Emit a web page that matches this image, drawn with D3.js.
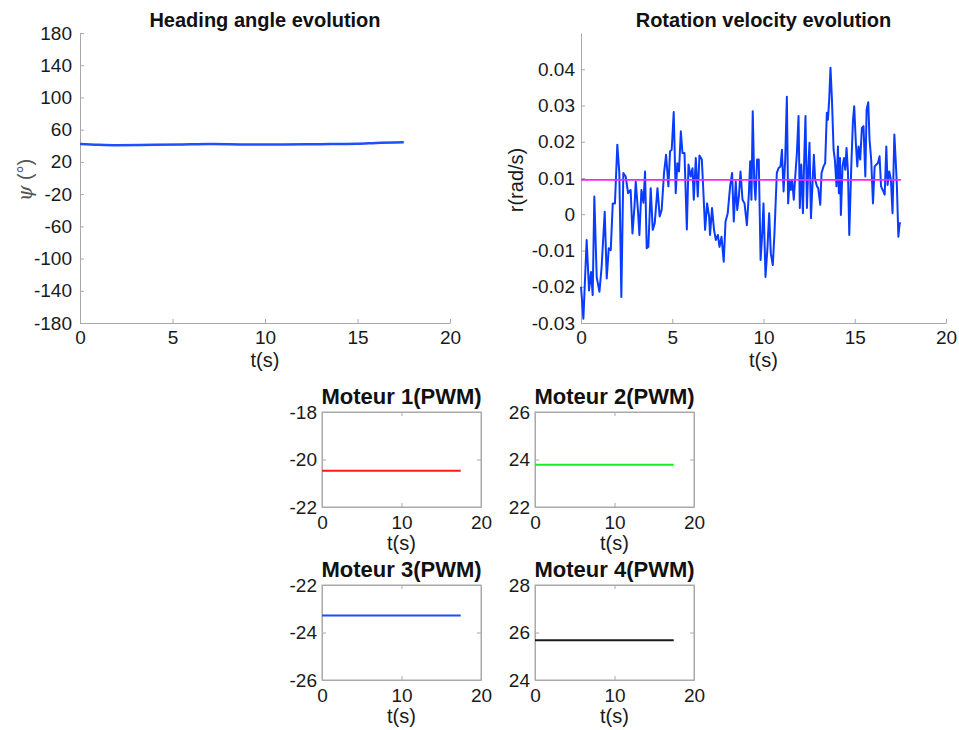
<!DOCTYPE html>
<html>
<head>
<meta charset="utf-8">
<script src="https://cdn.jsdelivr.net/npm/d3@7"></script>
<style>
  body { margin: 0; background: #fff; }
  svg { font-family: "Liberation Sans", Arial, Helvetica, sans-serif; }
</style>
</head>
<body>
<div id="chart"></div>
<script>
// heading angle psi (deg) vs time
var headT = [0, 1, 2, 4, 6, 7, 9, 11, 13, 15, 16, 17.5]
var headV = [42.3, 41.3, 40.8, 41.2, 41.8, 42.2, 41.7, 41.6, 42.0, 42.5, 43.5, 44.4]

// rotation velocity r (rad/s) vs time
var rotT = [0.00,0.13,0.31,0.44,0.55,0.64,0.73,0.86,1.01,1.13,1.30,1.41,1.52,1.63,1.74,1.86,1.99,2.10,2.21,2.32,
  2.45,2.58,2.72,2.82,2.93,3.00,3.13,3.20,3.31,3.42,3.51,3.60,3.69,3.82,3.93,4.04,4.19,4.31,4.42,4.55,
  4.66,4.79,4.88,4.97,5.08,5.19,5.28,5.37,5.47,5.56,5.67,5.80,5.89,6.01,6.11,6.18,6.29,6.40,6.49,6.62,
  6.71,6.80,6.91,7.02,7.07,7.18,7.29,7.39,7.50,7.59,7.70,7.82,7.92,8.04,8.17,8.28,8.37,8.48,8.56,8.65,
  8.74,8.85,8.96,9.09,9.20,9.27,9.34,9.41,9.49,9.56,9.65,9.74,9.84,9.93,10.00,10.11,10.22,10.31,10.40,10.51,
  10.60,10.73,10.82,10.93,11.01,11.10,11.19,11.28,11.35,11.43,11.50,11.57,11.66,11.74,11.83,11.92,11.99,12.07,12.16,12.23,
  12.30,12.38,12.45,12.52,12.60,12.69,12.76,12.83,12.93,13.00,13.11,13.18,13.29,13.38,13.47,13.53,13.60,13.67,13.75,13.84,
  13.91,14.00,14.08,14.13,14.19,14.24,14.33,14.41,14.48,14.55,14.63,14.70,14.81,14.90,14.97,15.06,15.14,15.21,15.30,15.39,
  15.48,15.58,15.65,15.74,15.81,15.90,16.00,16.09,16.18,16.27,16.36,16.44,16.53,16.64,16.73,16.80,16.89,16.98,17.07,17.17,
  17.26,17.31,17.39,17.46,17.53]
var rotV = [-0.0200,-0.0288,-0.0071,-0.0210,-0.0159,-0.0223,0.0049,-0.0173,-0.0214,-0.0145,0.0007,-0.0177,-0.0094,-0.0099,0.0030,0.0030,0.0192,0.0114,-0.0228,0.0114,
  0.0104,0.0058,0.0067,-0.0053,0.0021,0.0090,0.0003,-0.0057,0.0067,0.0032,0.0118,-0.0094,-0.0090,0.0072,-0.0043,-0.0025,0.0072,-0.0006,0.0012,0.0114,
  0.0164,0.0077,0.0174,0.0178,0.0282,0.0058,0.0141,0.0118,0.0229,0.0169,0.0169,-0.0042,0.0137,0.0104,0.0127,0.0040,0.0155,0.0049,0.0162,0.0151,
  0.0058,-0.0043,0.0030,-0.0006,-0.0057,0.0017,-0.0043,-0.0071,-0.0057,-0.0090,-0.0062,-0.0131,-0.0020,0.0003,0.0077,0.0114,-0.0020,0.0090,0.0012,0.0049,
  0.0118,0.0040,0.0030,-0.0030,0.0058,0.0146,0.0040,0.0284,0.0095,0.0040,0.0151,0.0151,-0.0126,-0.0053,0.0030,-0.0173,-0.0090,0.0003,-0.0108,-0.0140,
  -0.0053,0.0114,0.0127,0.0132,0.0178,0.0063,0.0151,0.0324,0.0030,0.0095,0.0067,0.0095,0.0040,0.0104,0.0169,0.0271,0.0017,0.0137,0.0003,0.0151,
  0.0271,0.0017,0.0123,0.0197,-0.0011,0.0090,0.0164,0.0095,0.0077,0.0072,0.0026,0.0114,0.0132,0.0141,0.0280,0.0261,0.0317,0.0404,0.0317,0.0178,
  0.0151,0.0077,0.0187,0.0058,0.0155,-0.0002,0.0132,0.0155,0.0123,0.0183,0.0114,-0.0057,0.0132,0.0257,0.0298,0.0197,0.0132,0.0187,0.0151,0.0238,
  0.0243,0.0104,0.0289,0.0309,0.0206,0.0151,0.0030,0.0132,0.0137,0.0141,0.0160,0.0077,0.0067,0.0054,0.0187,0.0081,0.0118,0.0095,0.0003,0.0220,
  0.0132,0.0077,-0.0062,-0.0025,-0.0025]
var rotRef = 0.0095

// motor PWM commands (constant)
var motorNames = ["Moteur 1(PWM)", "Moteur 2(PWM)", "Moteur 3(PWM)", "Moteur 4(PWM)"]
var motorValues = [-20.47, 23.78, -23.28, 25.67]
var motorYTicks = [[-22, -20, -18], [22, 24, 26], [-26, -24, -22], [24, 26, 28]]
var motorTEnd = 17.45

var headYTicks = [180, 140, 100, 60, 20, -20, -60, -100, -140, -180]
var rotYTicks = [-0.03, -0.02, -0.01, 0, 0.01, 0.02, 0.03, 0.04]

var width = 959, height = 730
var axisColor = "#a9a9a9", textColor = "#1a1a1a"

var svg = d3.select("#chart").append("svg")
  .attr("width", width)
  .attr("height", height)

// plain hyphen minus like the original figure
var plain = d => String(d)

//draws one panel, returns scales
function panel(o) {
  var x = d3.scaleLinear().domain(o.xDomain).range([o.left, o.right])
  var y = d3.scaleLinear().domain(o.yDomain).range([o.bottom, o.top])
  var g = svg.append("g")

  if (o.box) {
    g.append("rect")
      .attr("x", o.left).attr("y", o.top)
      .attr("width", o.right - o.left).attr("height", o.bottom - o.top)
      .attr("fill", "none").attr("stroke", axisColor)
    g.append("g").attr("transform", "translate(0," + o.top + ")")
      .call(d3.axisTop(x).tickValues(o.xTicks).tickSize(-4).tickSizeOuter(0).tickFormat(""))
    g.append("g").attr("transform", "translate(" + o.right + ",0)")
      .call(d3.axisRight(y).tickValues(o.yTicks).tickSize(-4).tickSizeOuter(0).tickFormat(""))
  }

  g.append("g").attr("class", "ax").attr("transform", "translate(0," + o.bottom + ")")
    .call(d3.axisBottom(x).tickValues(o.xTicks).tickSize(-4).tickSizeOuter(0).tickPadding(o.xPad).tickFormat(plain))
  g.append("g").attr("class", "ax").attr("transform", "translate(" + o.left + ",0)")
    .call(d3.axisLeft(y).tickValues(o.yTicks).tickSize(-4).tickSizeOuter(0).tickPadding(o.yPad)
      .tickFormat(o.yFormat || plain))

  g.selectAll(".domain, .tick line").attr("stroke", axisColor)
  g.selectAll(".ax text").attr("fill", textColor).style("font-size", "19px")

  g.append("text")
    .attr("x", (o.left + o.right) / 2).attr("y", o.titleY)
    .attr("text-anchor", "middle")
    .style("font-weight", "bold").style("font-size", o.titleSize + "px")
    .attr("fill", "#111")
    .text(o.title)

  g.append("text")
    .attr("x", (o.left + o.right) / 2).attr("y", o.xLabelY)
    .attr("text-anchor", "middle")
    .style("font-size", "20px").attr("fill", textColor)
    .text("t(s)")

  return { x: x, y: y, g: g }
}

///////////////////////// Heading angle /////////////////////////
var p1 = panel({ left: 80, right: 450, top: 33, bottom: 323, xDomain: [0, 20], yDomain: [-180, 180],
  xTicks: [0, 5, 10, 15, 20], yTicks: headYTicks, xPad: 8, yPad: 8,
  title: "Heading angle evolution", titleY: 27, titleSize: 20, xLabelY: 367 })

p1.g.append("text")
  .attr("transform", "translate(32,180) rotate(-90)")
  .attr("text-anchor", "middle")
  .attr("fill", "#555")
  .style("font-size", "20px")
  .html('<tspan font-family="DejaVu Serif" font-style="italic">ψ</tspan> (°)')

p1.g.append("path")
  .datum(headT.map((t, i) => [t, headV[i]]))
  .attr("fill", "none").attr("stroke", "#1f4fff").attr("stroke-width", 2.5)
  .attr("d", d3.line().x(d => p1.x(d[0])).y(d => p1.y(d[1])).curve(d3.curveMonotoneX))

///////////////////////// Rotation velocity /////////////////////////
var p2 = panel({ left: 581, right: 946, top: 33, bottom: 323, xDomain: [0, 20], yDomain: [-0.03, 0.05],
  xTicks: [0, 5, 10, 15, 20], yTicks: rotYTicks, xPad: 8, yPad: 6,
  yFormat: d => d === 0 ? "0" : d3.format(".2f")(d).replace("−", "-"),
  title: "Rotation velocity evolution", titleY: 27, titleSize: 20, xLabelY: 367 })

p2.g.append("text")
  .attr("transform", "translate(523,180) rotate(-90)")
  .attr("text-anchor", "middle")
  .attr("fill", textColor)
  .style("font-size", "20px")
  .text("r(rad/s)")

p2.g.append("path")
  .datum(rotT.map((t, i) => [t, rotV[i]]))
  .attr("fill", "none").attr("stroke", "#0a3cff").attr("stroke-width", 2)
  .attr("stroke-linejoin", "round")
  .attr("d", d3.line().x(d => p2.x(d[0])).y(d => p2.y(d[1])))

p2.g.append("line")
  .attr("x1", p2.x(0)).attr("x2", p2.x(d3.max(rotT)))
  .attr("y1", p2.y(rotRef)).attr("y2", p2.y(rotRef))
  .attr("stroke", "#ff22ff").attr("stroke-width", 1.8)

///////////////////////// Motors /////////////////////////
var motorColors = ["#ff1a1a", "#1aee1a", "#1a4fff", "#1a1a1a"]
var motorPos = [
  { left: 322, right: 481, top: 412, bottom: 507 },
  { left: 535, right: 694, top: 412, bottom: 507 },
  { left: 322, right: 481, top: 585, bottom: 680 },
  { left: 535, right: 694, top: 585, bottom: 680 }
]

motorNames.forEach(function(name, i) {
  var pos = motorPos[i]
  var ticks = motorYTicks[i]
  var p = panel({ left: pos.left, right: pos.right, top: pos.top, bottom: pos.bottom, box: true,
    xDomain: [0, 20], yDomain: [ticks[0], ticks[2]], xTicks: [0, 10, 20], yTicks: ticks, xPad: 9, yPad: 5,
    title: name, titleY: pos.top - 8, titleSize: 22, xLabelY: pos.bottom + 43 })
  p.g.append("line")
    .attr("x1", p.x(0)).attr("x2", p.x(motorTEnd))
    .attr("y1", p.y(motorValues[i])).attr("y2", p.y(motorValues[i]))
    .attr("stroke", motorColors[i]).attr("stroke-width", 2)
})
</script>
</body>
</html>
